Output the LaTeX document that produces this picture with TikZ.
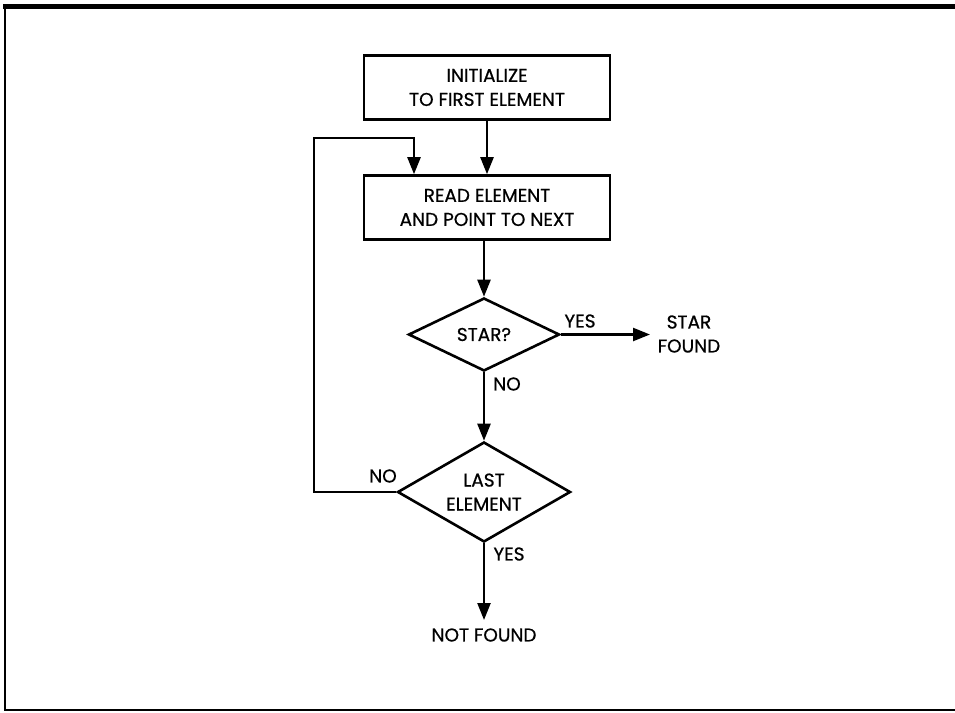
\documentclass[tikz,border=0pt]{standalone}
\usepackage{fontspec}
\setmainfont{Poppins}[BoldFont=Poppins,BoldFeatures={FakeBold=0.7}]
\usetikzlibrary{arrows.meta,shapes.geometric}
\begin{document}
\begin{tikzpicture}[x=1pt,y=-1pt,
  every node/.style={font=\fontsize{18.5}{24}\selectfont\bfseries},
  box/.style={draw,line width=2.6pt,minimum width=246pt,minimum height=64pt,align=center,inner sep=0pt},
  dec/.style={draw,diamond,line width=2.6pt,inner sep=0pt},
  lbl/.style={inner sep=0pt,align=center},
  conn/.style={line width=2.4pt,-{Triangle[length=17pt,width=13pt]}},
  plain/.style={line width=2.4pt}]
\useasboundingbox (0,0) rectangle (955,712);
% frame
\draw[line width=5pt] (3,6.5) -- (955,6.5);
\draw[line width=2pt] (5,6) -- (5,710) -- (955,710);
% nodes
\node[box] (init) at (487,87.5) {INITIALIZE\\TO FIRST ELEMENT};
\node[box] (read) at (487,207.5) {READ ELEMENT\\AND POINT TO NEXT};
\node[dec,minimum width=151pt,minimum height=73pt] (star) at (484,334.5) {};
\node[lbl] (startext) at (star.center) {STAR?};
\node[dec,minimum width=173pt,minimum height=100pt] (last) at (484,492) {};
\node[lbl] (lasttext) at (last.center) {LAST\\ELEMENT};
\node[lbl] (found) at (689,334) {STAR\\FOUND};
\node[lbl] (notfound) at (484,635) {NOT FOUND};
\coordinate (loopbl) at (314,492);
\coordinate (looptl) at (314,138);
\coordinate (looptr) at (414,138);
\coordinate (nfend) at (484,620);
\coordinate (sfend) at (650,334.5);
% connectors
\draw[conn] (init.south -| read.north) -- (read.north);
\draw[conn] (read.south -| star.north) -- (star.north);
\draw[conn] (star.south) -- (last.north);
\draw[conn] (star.east) -- (sfend);
\draw[conn] (last.south) -- (nfend);
\draw[conn] (last.west) -- (loopbl) -- (looptl) -- (looptr) -- (looptr |- read.north);
% labels
\node[lbl] at (580,321) {YES};
\node[lbl] at (507,384) {NO};
\node[lbl] at (383,476) {NO};
\node[lbl] at (509,554) {YES};
\end{tikzpicture}
\end{document}
